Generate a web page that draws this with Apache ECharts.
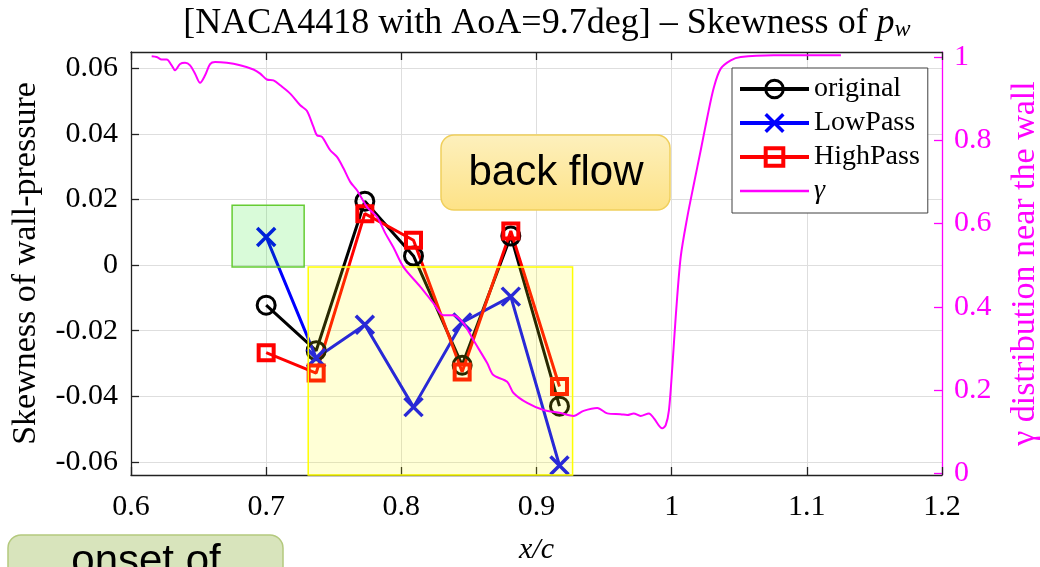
<!DOCTYPE html>
<html><head><meta charset="utf-8">
<script src="https://cdn.jsdelivr.net/npm/echarts@6/dist/echarts.min.js"></script>
<style>html,body{margin:0;padding:0;background:#fff}#c{width:1040px;height:567px}</style>
</head><body><div id="c"></div>
<script>
// ---- data ----
const xPositions = [0.700, 0.737, 0.773, 0.809, 0.845, 0.881, 0.917];
const originalSkew = [-0.0122, -0.0261, 0.0195, 0.0028, -0.0305, 0.0089, -0.0430];
const lowPassSkew  = [0.0086, -0.0283, -0.0182, -0.0433, -0.0175, -0.0096, -0.0611];
const highPassSkew = [-0.0267, -0.0329, 0.0157, 0.0076, -0.0326, 0.0104, -0.0370];
const gammaX = [0.6153,0.6190,0.6227,0.6264,0.6301,0.6326,0.6363,0.6400,0.6437,0.6474,0.6511,0.6548,0.6585,0.6622,0.6709,0.6807,0.6906,0.6956,0.7005,0.7054,0.7104,0.7178,0.7252,0.7301,0.7350,0.7376,0.7413,0.7474,0.7524,0.7573,0.7622,0.7672,0.7748,0.7822,0.7881,0.7941,0.8015,0.8141,0.8237,0.8311,0.8385,0.8459,0.8533,0.8635,0.8681,0.8783,0.8830,0.8931,0.9052,0.9178,0.9274,0.9348,0.9450,0.9524,0.9622,0.9672,0.9719,0.9770,0.9832,0.9869,0.9930,0.9956,0.9980,1.0005,1.0030,1.0067,1.0116,1.0165,1.0215,1.0264,1.0313,1.0363,1.0437,1.0511,1.0756,1.1252];
const gammaY = [1.002,1.000,0.994,0.994,0.980,0.968,0.983,0.986,0.980,0.960,0.938,0.956,0.983,0.988,0.986,0.980,0.970,0.960,0.946,0.944,0.932,0.912,0.884,0.871,0.832,0.812,0.808,0.776,0.760,0.732,0.700,0.680,0.639,0.615,0.577,0.543,0.496,0.448,0.409,0.380,0.380,0.361,0.320,0.265,0.236,0.220,0.193,0.169,0.152,0.145,0.138,0.150,0.157,0.144,0.142,0.140,0.144,0.138,0.144,0.132,0.108,0.116,0.152,0.256,0.376,0.520,0.616,0.696,0.776,0.856,0.928,0.972,0.992,1.000,1.004,1.004];
const xTicks = [0.6, 0.7, 0.8, 0.9, 1.0, 1.1, 1.2];
const skewTicks = [-0.06, -0.04, -0.02, 0, 0.02, 0.04, 0.06];
const gammaTicks = [0, 0.2, 0.4, 0.6, 0.8, 1];
const seriesNames = ['original', 'LowPass', 'HighPass', 'γ'];
// annotation regions (data coords)
const noiseBox = [[0.6748, 0.0183], [0.7281, -0.0006]];
const backflowBox = [[0.7311, -0.0006], [0.9267, -0.064]];

const serif = "'Liberation Serif','Times New Roman',serif";
const sans = "'Liberation Sans',Arial,sans-serif";
const MAG = '#ff00ff';
const pair = (xs, ys) => xs.map((x, i) => [x, ys[i]]);

const chart = echarts.init(document.getElementById('c'), null, {renderer: 'canvas'});
chart.setOption({
  animation: false,
  backgroundColor: '#fff',
  title: {
    text: '[NACA4418 with AoA=9.7deg] – Skewness of {i|p}{s|w}',
    left: 542, top: 0, textAlign: 'center',
    textStyle: {
      fontFamily: serif, fontSize: 36, fontWeight: 'normal', color: '#000',
      rich: {
        i: {fontFamily: serif, fontSize: 36, fontStyle: 'italic', color: '#000'},
        s: {fontFamily: serif, fontSize: 24, fontStyle: 'italic', color: '#000', padding: [13, 0, 0, 0]}
      }
    }
  },
  grid: {left: 131, right: 98, top: 52, bottom: 92, containLabel: false, outerBoundsMode: 'none'},
  legend: {
    orient: 'vertical', left: 732, top: 68,
    data: [{name: 'original', itemStyle: {borderWidth: 3}},
           {name: 'LowPass', itemStyle: {borderWidth: 3.5}},
           {name: 'HighPass', itemStyle: {borderWidth: 4}},
           {name: 'γ', textStyle: {fontStyle: 'italic'}, itemStyle: {opacity: 0}, lineStyle: {width: 2.5}}],
    itemWidth: 69, itemHeight: 22, itemGap: 6,
    padding: [7, 8, 8, 6],
    backgroundColor: '#fff', borderColor: '#404040', borderWidth: 1,
    lineStyle: {width: 4},
    textStyle: {fontFamily: serif, fontSize: 28, color: '#000'},
    selectedMode: false
  },
  xAxis: [{
    type: 'value', position: 'bottom', min: 0.6, max: 1.2, interval: 0.1,
    name: 'x/c', nameLocation: 'middle', nameGap: 60,
    nameTextStyle: {fontFamily: serif, fontSize: 30, fontStyle: 'italic', color: '#000'},
    axisLine: {onZero: false, lineStyle: {color: '#222', width: 1.3}},
    axisTick: {inside: true, length: 8, lineStyle: {color: '#222', width: 1.3}},
    axisLabel: {fontFamily: serif, fontSize: 30, color: '#000', margin: 17,
      formatter: v => String(Math.round(v * 10) / 10)},
    splitLine: {show: true, lineStyle: {color: '#dedede', width: 1}}
  }, {
    type: 'value', position: 'top', min: 0.6, max: 1.2, interval: 0.1,
    axisLine: {onZero: false, lineStyle: {color: '#222', width: 1.3}},
    axisTick: {inside: true, length: 8, lineStyle: {color: '#222', width: 1.3}},
    axisLabel: {show: false}, splitLine: {show: false}
  }],
  yAxis: [{
    type: 'value', position: 'left', min: -0.064, max: 0.065,
    name: 'Skewness of wall-pressure', nameLocation: 'middle', nameRotate: 90, nameGap: 88,
    nameTextStyle: {fontFamily: serif, fontSize: 34, color: '#000'},
    axisLine: {show: true, onZero: false, lineStyle: {color: '#222', width: 1.3}},
    axisTick: {show: true, inside: true, length: 8, customValues: skewTicks, lineStyle: {color: '#222', width: 1.3}},
    axisLabel: {fontFamily: serif, fontSize: 30, color: '#000', margin: 13, customValues: skewTicks,
      formatter: v => (Math.abs(v) < 1e-9 ? '0' : v.toFixed(2))},
    splitLine: {show: true, lineStyle: {color: '#dedede', width: 1}}
  }, {
    type: 'value', position: 'right', min: -0.004, max: 1.012,
    name: 'γ distribution near the wall', nameLocation: 'middle', nameRotate: 90, nameGap: 66,
    nameTextStyle: {fontFamily: serif, fontSize: 34, color: MAG},
    axisLine: {show: true, onZero: false, lineStyle: {color: MAG, width: 1.3}},
    axisTick: {show: true, inside: true, length: 8, customValues: gammaTicks, lineStyle: {color: MAG, width: 1.3}},
    axisLabel: {fontFamily: serif, fontSize: 30, color: MAG, margin: 12, customValues: gammaTicks,
      formatter: v => String(Math.round(v * 10) / 10)},
    splitLine: {show: false}
  }],
  series: [{
    name: seriesNames[0], type: 'line', data: pair(xPositions, originalSkew),
    symbol: 'circle', symbolSize: 18,
    lineStyle: {color: '#000', width: 3},
    itemStyle: {color: 'rgba(0,0,0,0)', borderColor: '#000', borderWidth: 3},
    z: 2
  }, {
    name: seriesNames[1], type: 'line', data: pair(xPositions, lowPassSkew),
    symbol: 'path://M0,0L20,20M20,0L0,20', symbolSize: 18,
    lineStyle: {color: '#0000ff', width: 3},
    itemStyle: {color: '#0000ff', borderColor: '#0000ff', borderWidth: 3.5},
    z: 2
  }, {
    name: seriesNames[2], type: 'line', data: pair(xPositions, highPassSkew),
    symbol: 'rect', symbolSize: 15,
    lineStyle: {color: '#ff0000', width: 3},
    itemStyle: {color: 'rgba(0,0,0,0)', borderColor: '#ff0000', borderWidth: 4},
    z: 2
  }, {
    name: 'annotations', type: 'line', data: [], z: 3,
    markArea: {
      silent: true, z: 3,
      data: [
        [{coord: backflowBox[0], itemStyle: {color: 'rgba(255,255,0,0.16)', borderColor: '#ffff00', borderWidth: 1.5}},
         {coord: backflowBox[1]}],
        [{coord: noiseBox[0], itemStyle: {color: 'rgba(0,230,0,0.15)', borderColor: '#66cc33', borderWidth: 1.5}},
         {coord: noiseBox[1]}]
      ]
    }
  }, {
    name: seriesNames[3], type: 'line', yAxisIndex: 1, data: pair(gammaX, gammaY),
    symbol: 'none', smooth: 0.3,
    lineStyle: {color: MAG, width: 2},
    itemStyle: {color: MAG},
    z: 4
  }],
  graphic: [
    {type: 'rect', z: 100, shape: {x: 441, y: 135, width: 229, height: 75, r: 13},
     style: {fill: new echarts.graphic.LinearGradient(0, 0, 0, 1, [{offset: 0, color: '#fdf0bd'}, {offset: 1, color: '#fde286'}]),
             stroke: '#f0cf5c', lineWidth: 1.5}},
    {type: 'text', z: 101, x: 556, y: 173,
     style: {text: 'back flow', font: '42px ' + sans, fill: '#000', textAlign: 'center', textVerticalAlign: 'middle'}},
    {type: 'rect', z: 100, shape: {x: 8, y: 535, width: 275, height: 60, r: 13},
     style: {fill: '#d8e4bc', stroke: '#b4c97e', lineWidth: 1.5}},
    {type: 'text', z: 101, x: 146, y: 562,
     style: {text: 'onset of', font: '42px ' + sans, fill: '#000', textAlign: 'center', textVerticalAlign: 'middle'}}
  ]
});
</script>
</body></html>
